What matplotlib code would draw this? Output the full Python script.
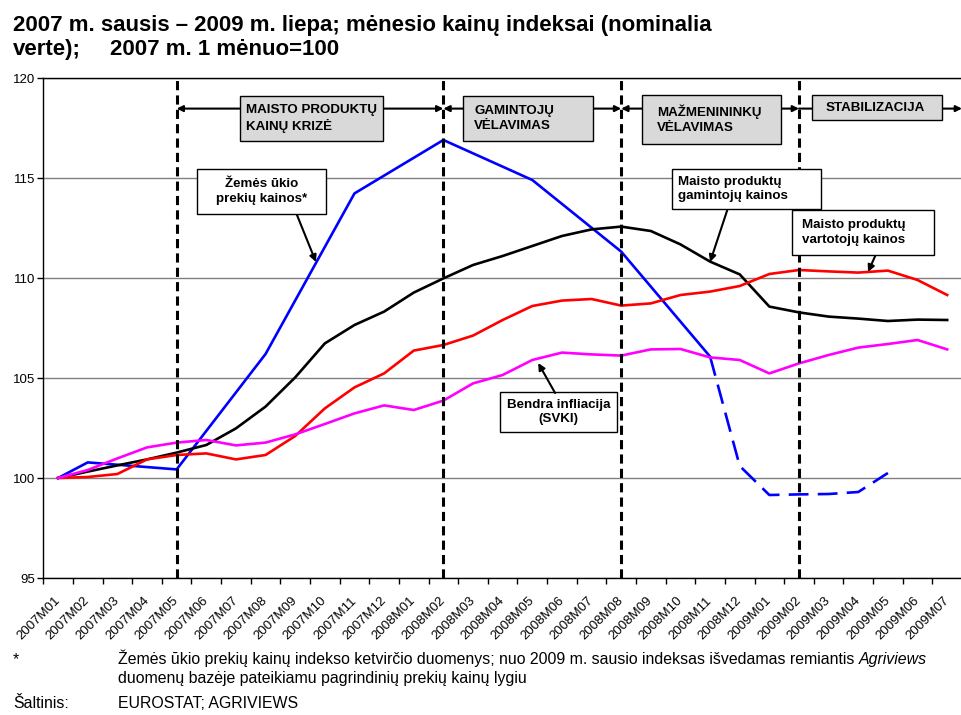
import matplotlib
matplotlib.use('Agg')
import matplotlib.pyplot as plt
from matplotlib.patches import Rectangle
from matplotlib.transforms import ScaledTranslation

plt.rcParams['font.family'] = ['Liberation Sans', 'DejaVu Sans']

# menesiai (kategorijos)
menesiai = ['2007M01', '2007M02', '2007M03', '2007M04', '2007M05', '2007M06',
            '2007M07', '2007M08', '2007M09', '2007M10', '2007M11', '2007M12',
            '2008M01', '2008M02', '2008M03', '2008M04', '2008M05', '2008M06',
            '2008M07', '2008M08', '2008M09', '2008M10', '2008M11', '2008M12',
            '2009M01', '2009M02', '2009M03', '2009M04', '2009M05', '2009M06',
            '2009M07']

# maisto produktu gamintoju kainos (juoda)
gamintoju_kainos = [100, 100.32, 100.63, 100.93, 101.27, 101.65, 102.48, 103.57,
                    105.03, 106.73, 107.65, 108.32, 109.27, 109.98, 110.65, 111.1,
                    111.6, 112.1, 112.43, 112.57, 112.35, 111.68, 110.82, 110.18,
                    108.57, 108.28, 108.07, 107.97, 107.85, 107.92, 107.9]

# maisto produktu vartotoju kainos (raudona)
vartotoju_kainos = [100, 100.05, 100.2, 100.93, 101.15, 101.23, 100.93, 101.15,
                    102.1, 103.48, 104.53, 105.23, 106.37, 106.65, 107.12, 107.9,
                    108.6, 108.87, 108.95, 108.62, 108.73, 109.15, 109.32, 109.6,
                    110.2, 110.4, 110.33, 110.27, 110.37, 109.9, 109.15]

# bendra infliacija SVKI (rausva)
bendra_infliacija = [100, 100.4, 100.98, 101.53, 101.77, 101.9, 101.63, 101.77,
                     102.18, 102.7, 103.23, 103.63, 103.4, 103.87, 104.73, 105.15,
                     105.9, 106.27, 106.18, 106.12, 106.43, 106.45, 106.03, 105.9,
                     105.23, 105.73, 106.15, 106.52, 106.7, 106.9, 106.43]

# zemes ukio prekiu kainos - ketvircio duomenys (menesio indeksas)
zemes_ukio_men = [0, 1, 4, 7, 10, 13, 16, 19, 22]
zemes_ukio = [100, 100.78, 100.43, 106.2, 114.23, 116.9, 114.9, 111.32, 106.07]

# nuo 2008 pabaigos - Agriviews (punktyras)
agriviews_men = [22, 23, 24, 25, 26, 27, 28]
agriviews = [106.07, 100.6, 99.15, 99.18, 99.2, 99.3, 100.25]

faziu_ribos = ['2007M05', '2008M02', '2008M08', '2009M02']
fazes = ['MAISTO PRODUKTŲ\nKAINŲ KRIZĖ', 'GAMINTOJŲ\nVĖLAVIMAS',
         'MAŽMENININKŲ\nVĖLAVIMAS', 'STABILIZACIJA']

W, H = 962, 715
fig = plt.figure(figsize=(W / 100, H / 100), dpi=100)
ax = fig.add_axes([43.3 / W, 1 - 578 / H, (W - 43.3) / W, 500 / H])

x = list(range(len(menesiai)))
ax.plot(zemes_ukio_men, zemes_ukio, color='#0000FF', lw=1.9, zorder=3)
ax.plot(agriviews_men, agriviews, color='#0000FF', lw=1.9, dashes=(7.5, 3.5), zorder=3)
ax.plot(x, gamintoju_kainos, color='black', lw=1.9, zorder=3)
ax.plot(x, vartotoju_kainos, color='#FF0000', lw=1.9, zorder=3)
ax.plot(x, bendra_infliacija, color='#FF00FF', lw=1.9, zorder=3)

ax.set_xlim(-0.5, len(menesiai) - 0.5)
ax.set_ylim(95, 120)
ax.set_yticks(range(95, 121, 5))
ax.yaxis.grid(True, color='#808080', lw=1)
ax.set_axisbelow(True)
for s in ['left', 'bottom', 'top']:
    ax.spines[s].set_color('black')
    ax.spines[s].set_linewidth(1)
ax.spines['right'].set_visible(False)

ax.set_xticks(x)
ax.set_xticklabels(menesiai, rotation=45, ha='right', va='center',
                   rotation_mode='anchor', fontsize=9.5)
poslinkis = ScaledTranslation(-6 / 100, 0, fig.dpi_scale_trans)
for lbl in ax.get_xticklabels():
    lbl.set_transform(lbl.get_transform() + poslinkis)
ax.set_xticks([i - 0.5 for i in range(len(menesiai) + 1)], minor=True)
ax.tick_params(axis='x', which='major', length=0, pad=15)
ax.tick_params(axis='x', which='minor', length=4, width=1)
ax.tick_params(axis='y', length=4, width=1, pad=2, labelsize=9.5)

# fazių ribos
ribos_x = [menesiai.index(m) for m in faziu_ribos]
for rx in ribos_x:
    ax.axvline(rx, color='black', lw=2.2, linestyle=(0, (3, 1.7)), zorder=4)

# rodyklės tarp fazių
y_rod = 118.47
galai = ribos_x + [len(menesiai) - 0.5]
for k in range(len(fazes)):
    stilius = '<|-|>' if k < len(fazes) - 1 else '-|>'
    ax.annotate('', xy=(galai[k + 1], y_rod), xytext=(galai[k], y_rod),
                arrowprops=dict(arrowstyle=stilius, color='black', lw=1.5,
                                mutation_scale=9, shrinkA=0, shrinkB=0),
                zorder=5)


def dezute(x0, x1, y0, y1, tekstas, fc, tx, ha):
    ax.add_patch(Rectangle((x0, y0), x1 - x0, y1 - y0, facecolor=fc,
                           edgecolor='black', lw=1, zorder=6))
    ax.text(tx, (y0 + y1) / 2, tekstas, ha=ha, va='center', fontsize=9.6,
            fontweight='bold', zorder=7, linespacing=1.3)


# fazių dėžutės
dezute(6.14, 10.96, 116.85, 119.1, fazes[0], '#d9d9d9', 6.34, 'left')
dezute(13.67, 18.05, 116.85, 119.1, fazes[1], '#d9d9d9', 14.04, 'left')
dezute(19.71, 24.4, 116.7, 119.15, fazes[2], '#d9d9d9', 20.21, 'left')
dezute(25.44, 29.83, 117.9, 119.15, fazes[3], '#d9d9d9', 25.91, 'left')

# serijų etiketės
dezute(4.69, 9.04, 113.2, 115.45, 'Žemės ūkio\nprekių kainos*', 'white', 6.86, 'center')
dezute(20.72, 25.75, 113.45, 115.45, 'Maisto produktų\ngamintojų kainos', 'white', 20.92, 'left')
dezute(24.77, 29.56, 111.15, 113.4, 'Maisto produktų\nvartotojų kainos', 'white', 25.11, 'left')
dezute(14.91, 18.86, 102.3, 104.3, 'Bendra infliacija\n(SVKI)', 'white', 16.89, 'center')

rodykles = [((8.06, 113.15), (8.7, 110.8)),
            ((22.58, 113.4), (22.0, 110.8)),
            ((27.57, 111.1), (27.33, 110.3)),
            ((16.77, 104.25), (16.2, 105.75))]
for uod, gal in rodykles:
    ax.annotate('', xy=gal, xytext=uod,
                arrowprops=dict(arrowstyle='-|>', color='black', lw=1.5,
                                mutation_scale=10, shrinkA=0, shrinkB=0),
                zorder=7)

# antraštė
fig.text(13 / W, 1 - 31 / H, '2007 m. sausis – 2009 m. liepa; mėnesio kainų indeksai (nominalia',
         fontsize=16, fontweight='bold', va='baseline')
fig.text(13 / W, 1 - 55 / H, 'verte);', fontsize=16, fontweight='bold', va='baseline')
fig.text(110 / W, 1 - 55 / H, '2007 m. 1 mėnuo=100', fontsize=16, fontweight='bold', va='baseline')

# išnašos
fs = 11.4
fig.text(13 / W, 1 - 664 / H, '*', fontsize=fs, va='baseline')
t1 = fig.text(118 / W, 1 - 664 / H,
              'Žemės ūkio prekių kainų indekso ketvirčio duomenys; nuo 2009 m. sausio indeksas išvedamas remiantis ',
              fontsize=fs, va='baseline')
fig.text(118 / W, 1 - 683 / H, 'duomenų bazėje pateikiamu pagrindinių prekių kainų lygiu',
         fontsize=fs, va='baseline')
fig.text(13 / W, 1 - 708 / H, 'Šaltinis:', fontsize=fs, va='baseline')
fig.text(118 / W, 1 - 708 / H, 'EUROSTAT; AGRIVIEWS', fontsize=fs, va='baseline')

fig.canvas.draw()
bb = t1.get_window_extent()
fig.text(bb.x1 / W, 1 - 664 / H, 'Agriviews', fontsize=fs, va='baseline', style='italic')

fig.savefig('out.png', dpi=100)
